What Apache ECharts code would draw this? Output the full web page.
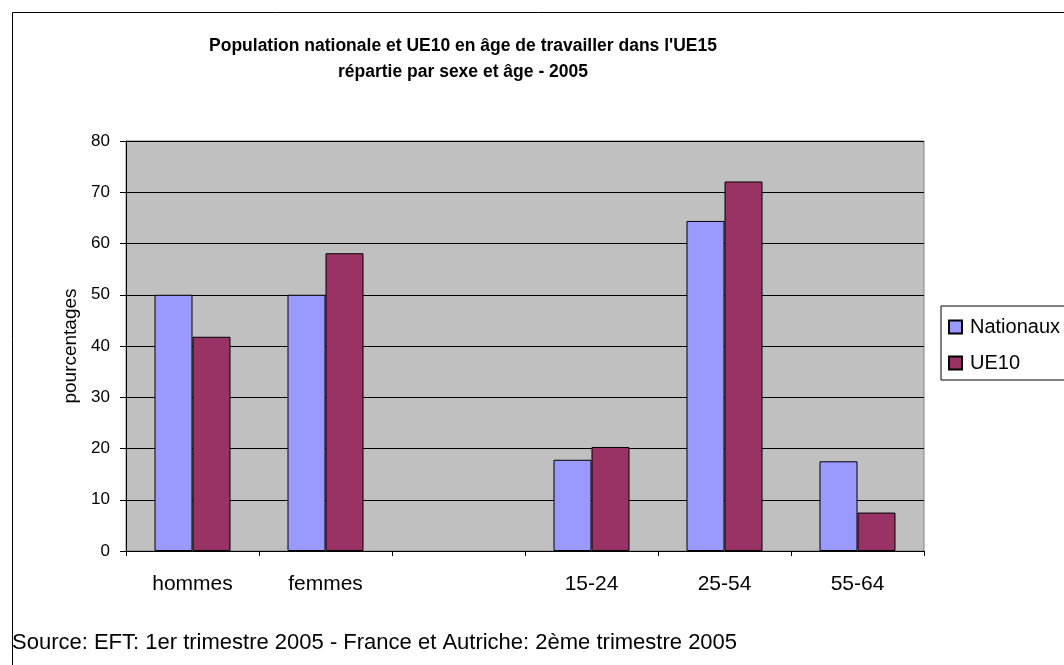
<!DOCTYPE html>
<html>
<head>
<meta charset="utf-8">
<script src="https://cdn.jsdelivr.net/npm/echarts@6/dist/echarts.min.js"></script>
<style>
  html, body { margin: 0; padding: 0; background: #fff; }
  #main { width: 1064px; height: 665px; }
</style>
</head>
<body>
<div id="main"></div>
<script>
// données
const categories = ["hommes", "femmes", "", "15-24", "25-54", "55-64"]
const nationaux = [50, 50, null, 17.8, 64.4, 17.5]
const ue10 = [41.8, 58.1, null, 20.3, 72.1, 7.5]
const seriesNames = ["Nationaux", "UE10"]

const font = "'Liberation Sans', Arial, sans-serif"
const chart = echarts.init(document.getElementById("main"))

const option = {
  backgroundColor: "#fff",
  animation: false,
  textStyle: { fontFamily: font, color: "#000" },
  title: {
    text: "Population nationale et UE10 en âge de travailler dans l'UE15\nrépartie par sexe et âge - 2005",
    left: 458,
    top: 28,
    textAlign: "center",
    textStyle: { fontFamily: font, fontSize: 17.5, fontWeight: "bold", color: "#000", lineHeight: 26 }
  },
  legend: {
    orient: "vertical",
    left: 941,
    top: 306,
    padding: [11, 80, 7, 7],
    itemGap: 16,
    itemWidth: 13,
    itemHeight: 13,
    icon: "rect",
    borderColor: "#000",
    borderWidth: 1,
    textStyle: { fontFamily: font, fontSize: 20, color: "#000", padding: [0, 0, 0, 3] },
    data: seriesNames
  },
  grid: {
    left: 126,
    right: 140,
    top: 141,
    bottom: 114,
    show: true,
    backgroundColor: "#C0C0C0",
    borderColor: "#808080",
    borderWidth: 1
  },
  xAxis: {
    type: "category",
    data: categories,
    axisLine: { lineStyle: { color: "#000", width: 1 } },
    axisTick: { show: true, length: 5, lineStyle: { color: "#000" } },
    axisLabel: { fontFamily: font, fontSize: 21, color: "#000", margin: 23 }
  },
  yAxis: {
    type: "value",
    min: 0,
    max: 80,
    interval: 10,
    name: "pourcentages",
    nameLocation: "middle",
    nameGap: 46,
    nameTextStyle: { fontFamily: font, fontSize: 19, color: "#000" },
    axisLine: { show: true, lineStyle: { color: "#000", width: 1 } },
    axisTick: { show: true, length: 6, lineStyle: { color: "#000" } },
    axisLabel: { fontFamily: font, fontSize: 17, color: "#000", margin: 16 },
    splitLine: { show: true, lineStyle: { color: "#000", width: 1 } }
  },
  series: [
    {
      name: seriesNames[0],
      type: "bar",
      data: nationaux,
      barWidth: 38,
      barGap: "0%",
      itemStyle: { color: "#9999FF", borderColor: "#000", borderWidth: 1 }
    },
    {
      name: seriesNames[1],
      type: "bar",
      data: ue10,
      barWidth: 38,
      itemStyle: { color: "#993366", borderColor: "#000", borderWidth: 1 }
    }
  ],
  graphic: [
    {
      type: "rect",
      left: 10,
      top: 10,
      shape: { width: 1100, height: 700 },
      style: { fill: null, stroke: "#000", lineWidth: 1 },
      silent: true,
      z: -1
    },
    {
      type: "text",
      left: 12,
      top: 632,
      style: {
        text: "Source: EFT: 1er trimestre 2005 - France et Autriche: 2ème trimestre 2005",
        font: "22px 'Liberation Sans', Arial, sans-serif",
        fill: "#000"
      }
    }
  ]
}

chart.setOption(option)
</script>
</body>
</html>
